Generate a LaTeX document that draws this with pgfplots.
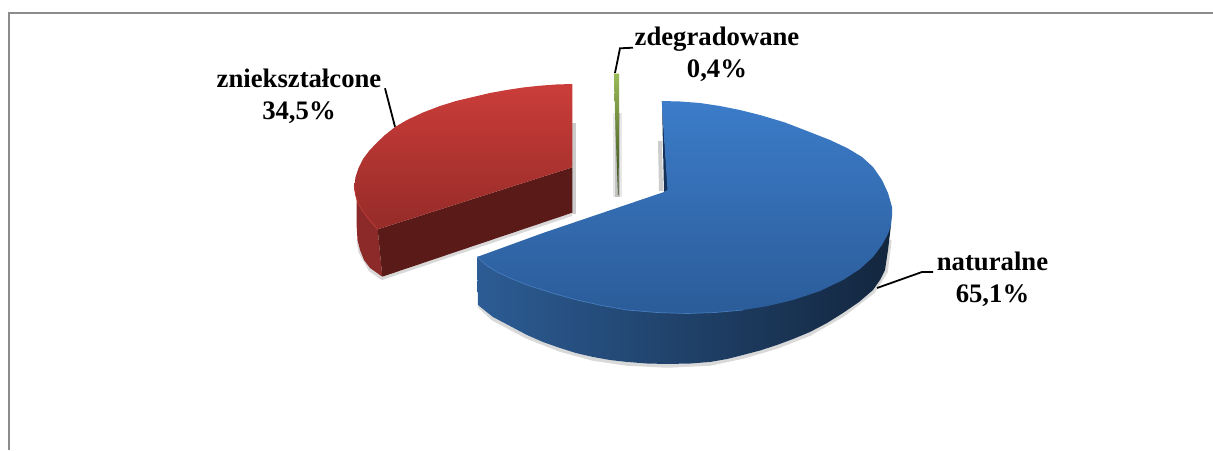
\documentclass[border=0pt]{standalone}
\usepackage{fontspec}
\setmainfont{Liberation Serif}
\usepackage{pgfplots}
\pgfplotsset{compat=1.18}
\definecolor{frameC}{HTML}{8C8C8C}
\definecolor{blueT}{HTML}{3C7CC9}
\definecolor{blueB}{HTML}{2B5C99}
\definecolor{redT}{HTML}{CB3D3A}
\definecolor{redB}{HTML}{952B28}
\definecolor{greenT}{HTML}{9BBB59}
\definecolor{greenB}{HTML}{324619}
\definecolor{redWall}{HTML}{8B2A28}
\definecolor{redIn}{HTML}{5A1A18}
\definecolor{wallL}{HTML}{2C5C94}
\definecolor{wallM}{HTML}{1A365A}
\definecolor{wallR}{HTML}{13263E}
\definecolor{blueIn}{HTML}{163258}
\definecolor{blueHi}{HTML}{467DBE}
\definecolor{redHi}{HTML}{BE3C37}
\begin{document}
\begin{tikzpicture}
\useasboundingbox (0,0) rectangle (1213pt,450pt);
\begin{axis}[
  at={(0,0)},anchor=south west,
  width=1213pt,height=450pt,scale only axis,hide axis,
  xmin=0,xmax=1213,ymin=0,ymax=450,y dir=reverse,clip=true]
% frame
\addplot[draw=frameC,line width=2pt] coordinates {(9,450)(9,12.5)(1213,12.5)};
% shadows
\addplot[draw=gray,line width=9pt,opacity=.18] coordinates {(617,113)(617,197)};
\addplot[draw=gray,line width=5pt,opacity=.35] coordinates {(617,113)(617,197)};
\addplot[draw=gray,line width=4pt,opacity=.4] coordinates {(574,123)(574,214)};
\addplot[draw=gray,line width=4pt,opacity=.4] coordinates {(660,141)(661,191)};
\addplot[draw=gray,line width=3.5pt,opacity=.3] coordinates {(479,306)(493,319)(527,337)(560,350)(593,359)(627,364)(667,366)(710,364)(743,357)(777,347)(810,334)(843,315)(873,292)(886,272)(890,240)};
\addplot[draw=gray,line width=3pt,opacity=.3] coordinates {(358,240)(360,252)(370,270)(382,278.5)(572,214.5)};
% green slice
\addplot[draw=none,top color=greenT,bottom color=greenB] coordinates {(614,73.5)(619,73.5)(619,120)(618.6,195)(618,195)(615.5,130)(614,73.5)};
% red walls
\addplot[draw=none,fill=redWall] coordinates {(354.3,186.7)(356.7,200)(356.7,226.7)(357.5,240)(360,250)(364,260)(370,268)(382.3,276.7)(377.7,229.3)(366.7,216.7)(354.3,186.7)};
\addplot[draw=none,fill=redIn] coordinates {(377.7,229.3)(572.3,167.3)(572.3,212.7)(382.3,276.7)(377.7,229.3)};
% red top
\addplot[draw=none,top color=redT,bottom color=redB] coordinates {(572.3,84)(556,84.5)(540,85.7)(523,87.5)(506.7,90)(490,93)(473,97)(456,101)(440,106)(423,112.5)(407,120)(395,127)(385,135)(376,143.5)(369,151)(363,159)(358.5,168)(355.5,177)(354.3,186.7)(355.5,195)(358,203)(362,210)(366.7,216.7)(372,223)(377.7,229.3)(572.3,167.3)(572.3,84)};
% blue wall
\addplot[draw=none,left color=wallL,middle color=wallM,right color=wallR] coordinates {(477,257)(478,305)(493,317)(510,326)(527,335)(543,342)(560,348)(576,353)(593,357)(610,360)(627,362)(647,363.5)(667,364)(690,363.5)(710,362)(727,359)(743,355)(760,350.5)(777,345)(793,339)(810,332)(827,323)(843,313)(859,302)(873,290)(880,280)(885,270)(888,250)(891,225)(700,200)(477,257)};
% blue inner sliver
\addplot[draw=none,fill=blueIn] coordinates {(662,103)(664,192)(668,190)(662,103)};
% blue top
\addplot[draw=none,top color=blueT,bottom color=blueB] coordinates {(661.7,101)(680,101.5)(700,103)(720,106)(740,110)(760,115)(785,122.5)(807,131)(830,140)(848,148.5)(862,157)(873,167)(882,180)(888,193)(892,207)(892,216)(891,225)(888,234)(882,245)(873,257)(860,269)(843,280)(820,291)(793,300)(768,306)(743,310)(715,312.5)(687,313.5)(657,312.5)(627,310)(602,305.5)(577,300)(552,293)(527,285)(510,278)(497,272)(486,265)(477,257)(543,233)(664,192)(667.5,190)(661.7,101)};
% highlight edges
\addplot[draw=blueHi,line width=.7pt] coordinates {(477,257)(486,265)(497,272)(510,278)(527,285)(552,293)(577,300)(602,305.5)(627,310)(657,312.5)(687,313.5)(715,312.5)(743,310)};
\addplot[draw=redHi,line width=.7pt] coordinates {(354.3,186.7)(355.5,195)(358,203)(362,210)(366.7,216.7)(372,223)(377.7,229.3)};
% leaders
\addplot[draw=black,line width=1.8pt] coordinates {(615,73)(620,48.3)(633,47.7)};
\addplot[draw=black,line width=1.8pt] coordinates {(385,88.3)(395,126.7)};
\addplot[draw=black,line width=1.8pt] coordinates {(877,288)(922,272)(933,272)};
% labels
\tikzset{lab/.style={font=\fontsize{26.7}{32}\selectfont\bfseries,align=center,inner sep=0pt,text=black}}
\node[lab] at (axis cs:299,96.5) {zniekształcone\\34,5\%};
\node[lab] at (axis cs:717,54) {zdegradowane\\0,4\%};
\node[lab] at (axis cs:992.5,279) {naturalne\\65,1\%};
\end{axis}
\end{tikzpicture}
\end{document}
